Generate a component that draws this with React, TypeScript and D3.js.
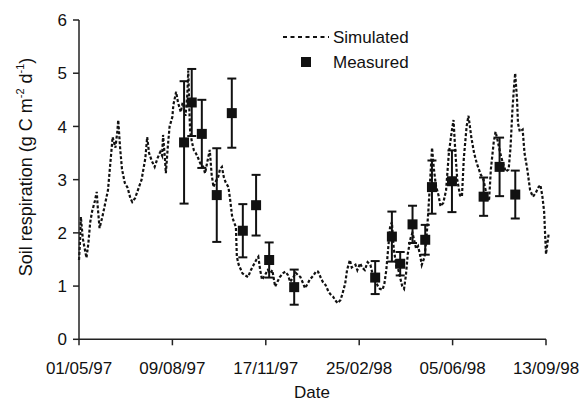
import React from 'react';
import * as d3 from 'd3';

const START = Date.UTC(1997, 4, 1);
const DAY = 86400000;

const xTickDays = [0, 100, 200, 300, 400, 500];
const xTickLabels = ['01/05/97', '09/08/97', '17/11/97', '25/02/98', '05/06/98', '13/09/98'];
const yTicks = [0, 1, 2, 3, 4, 5, 6];

const simDays = [
  0, 1, 2, 4, 8, 10, 12, 14, 17, 19, 20, 22, 25, 28, 31, 33, 36, 39, 41, 42, 44, 46, 49, 52, 55, 57,
  60, 63, 67, 71, 73, 75, 78, 81, 84, 87, 89, 90, 92, 93, 95, 97, 100, 101, 104, 106, 109, 111, 114,
  116, 117, 118, 119, 121, 123, 125, 127, 130, 133, 135, 137, 140, 142, 144, 146, 149, 151, 153, 155,
  157, 160, 162, 164, 166, 168, 169, 171, 175, 178, 181, 184, 187, 190, 192, 194, 196, 199, 202, 205,
  207, 210, 213, 215, 219, 221, 224, 226, 229, 232, 235, 237, 240, 242, 245, 247, 251, 254, 256, 259,
  261, 264, 267, 269, 272, 275, 277, 280, 282, 285, 287, 290, 292, 296, 298, 301, 303, 306, 309, 312,
  314, 317, 320, 322, 325, 327, 329, 331, 333, 335, 337, 340, 342, 344, 346, 348, 350, 352, 355, 357,
  359, 361, 363, 365, 367, 370, 372, 374, 376, 378, 380, 382, 385, 387, 390, 393, 396, 399, 401, 403,
  405, 408, 410, 412, 415, 417, 420, 423, 426, 430, 433, 436, 439, 441, 444, 446, 448, 451, 454, 457,
  460, 462, 464, 466, 467, 469, 470, 472, 475, 477, 480, 483, 486, 489, 492, 494, 496, 498, 500, 503,
];
const simValues = [
  1.49, 1.8, 2.3, 1.9, 1.53, 1.8, 2.2, 2.4, 2.6, 2.77, 2.5, 2.09, 2.3, 2.55, 2.8, 3.2, 3.8, 3.6, 3.9,
  4.12, 3.6, 3.2, 2.94, 2.85, 2.65, 2.58, 2.65, 2.8, 3.0, 3.4, 3.8, 3.5, 3.35, 3.24, 3.4, 3.52, 3.45,
  3.84, 3.4, 3.12, 3.6, 4.0, 4.18, 4.4, 4.65, 4.45, 4.27, 4.45, 4.2, 4.6, 5.05, 4.4, 3.9, 3.7, 3.55,
  3.5, 3.43, 3.3, 3.24, 3.12, 3.3, 3.56, 3.1, 2.86, 2.95, 3.05, 3.2, 3.24, 3.05, 2.95, 2.86, 2.6, 2.3,
  2.2, 2.11, 1.55, 1.4, 1.24, 1.2, 1.17, 1.3, 1.4, 1.5, 1.55, 1.3, 1.12, 1.2, 1.3, 1.24, 1.3, 0.99,
  1.1, 1.17, 1.25, 1.27, 1.2, 1.08, 1.15, 1.25, 1.2, 1.17, 1.05, 0.96, 1.05, 1.12, 1.2, 1.28, 1.27,
  1.15, 1.08, 1.02, 0.9, 0.85, 0.8, 0.72, 0.68, 0.74, 0.85, 1.05, 1.3, 1.49, 1.35, 1.4, 1.3, 1.43,
  1.35, 1.3, 1.45, 1.4, 1.25, 1.12, 1.0, 0.95, 0.93, 1.05, 1.3, 1.7, 2.1, 2.2, 1.7, 1.35, 1.3, 1.15,
  1.0, 0.95, 1.2, 1.6, 1.9, 2.0, 1.85, 1.7, 1.75, 1.6, 1.4, 1.55, 1.9, 2.4, 3.0, 3.6, 3.2, 2.9, 2.7,
  2.5, 2.56, 2.8, 3.5, 3.9, 4.12, 3.5, 3.0, 2.7, 2.68, 3.4, 4.0, 4.2, 3.8, 3.5, 3.3, 3.1, 3.0, 2.75,
  2.6, 3.2, 3.7, 3.9, 3.75, 3.5, 3.3, 3.15, 3.19, 3.6, 4.3, 4.8, 5.0, 4.5, 4.06, 3.9, 3.94, 3.5, 3.19,
  2.8, 2.68, 2.75, 2.86, 2.9, 2.7, 2.4, 1.6, 2.0,
];

const measDays = [112.5, 120.7, 131.5, 147.5, 163.6, 175.4, 189.6, 203.6, 230.4, 317.1, 335, 343.9, 357.1, 370.7, 377.9, 399.3, 433.2, 450.3, 467.1];
const measValues = [3.7, 4.45, 3.86, 2.71, 4.25, 2.04, 2.52, 1.49, 0.98, 1.16, 1.93, 1.42, 2.16, 1.87, 2.86, 2.97, 2.68, 3.24, 2.72];
const measErrors = [1.15, 0.63, 0.64, 0.88, 0.65, 0.5, 0.57, 0.33, 0.33, 0.31, 0.47, 0.22, 0.35, 0.28, 0.5, 0.58, 0.36, 0.55, 0.45];

const toDate = (d: number) => new Date(START + d * DAY);

export default function App() {
  const x = d3.scaleUtc().domain([toDate(0), toDate(500)]).range([79, 546]);
  const y = d3.scaleLinear().domain([0, 6]).range([339.3, 20]);
  const line = d3
    .line<number>()
    .x((_, i) => x(toDate(simDays[i])))
    .y((v) => y(v));
  const font = 'Liberation Sans, Arial, sans-serif';
  const fs = 17;
  const box = 10;
  const cap = 4.5;

  return (
    <svg width={582} height={403} style={{ position: 'absolute', left: 0, top: 0, background: '#fff' }} fontFamily={font}>
      <rect width={582} height={403} fill="#fff" />
      {/* simulated */}
      <path d={line(simValues) || ''} fill="none" stroke="#111" strokeWidth={2.2} strokeDasharray="3,2" />
      {/* measured error bars */}
      {measDays.map((d, i) => {
        const cx = x(toDate(d));
        const yt = y(measValues[i] + measErrors[i]);
        const yb = y(measValues[i] - measErrors[i]);
        return (
          <g key={i} stroke="#111" strokeWidth={2}>
            <line x1={cx} x2={cx} y1={yt} y2={yb} />
            <line x1={cx - cap} x2={cx + cap} y1={yt} y2={yt} />
            <line x1={cx - cap} x2={cx + cap} y1={yb} y2={yb} />
          </g>
        );
      })}
      {measDays.map((d, i) => (
        <rect key={'m' + i} x={x(toDate(d)) - box / 2} y={y(measValues[i]) - box / 2} width={box} height={box} fill="#111" />
      ))}
      {/* axes */}
      <line x1={79} x2={79} y1={y(6)} y2={y(0)} stroke="#222" strokeWidth={1.5} />
      <line x1={79} x2={546} y1={y(0)} y2={y(0)} stroke="#222" strokeWidth={1.5} />
      {yTicks.map((t) => (
        <g key={'y' + t}>
          <line x1={73} x2={79} y1={y(t)} y2={y(t)} stroke="#222" strokeWidth={1.5} />
          <text x={67} y={y(t)} dy="0.36em" textAnchor="end" fontSize={fs} fill="#111">
            {t}
          </text>
        </g>
      ))}
      {xTickDays.map((d, i) => (
        <g key={'x' + d}>
          <line x1={x(toDate(d))} x2={x(toDate(d))} y1={y(0)} y2={y(0) + 6} stroke="#222" strokeWidth={1.5} />
          <text x={x(toDate(d))} y={373.5} textAnchor="middle" fontSize={fs} fill="#111">
            {xTickLabels[i]}
          </text>
        </g>
      ))}
      <text x={312} y={398} textAnchor="middle" fontSize={fs} fill="#111">
        Date
      </text>
      <text transform="translate(32,167) rotate(-90)" textAnchor="middle" fontSize={18} fill="#111">
        Soil respiration (g C m
        <tspan fontSize={11} dy={-8}>-2</tspan>
        <tspan dy={8}> d</tspan>
        <tspan fontSize={11} dy={-8}>-1</tspan>
        <tspan dy={8}>)</tspan>
      </text>
      {/* legend */}
      <line x1={283} x2={329} y1={37} y2={37} stroke="#111" strokeWidth={2} strokeDasharray="4,3.5" />
      <text x={333} y={42.5} fontSize={fs} fill="#111">
        Simulated
      </text>
      <rect x={301} y={57} width={box} height={box} fill="#111" />
      <text x={333} y={68} fontSize={fs} fill="#111">
        Measured
      </text>
    </svg>
  );
}
